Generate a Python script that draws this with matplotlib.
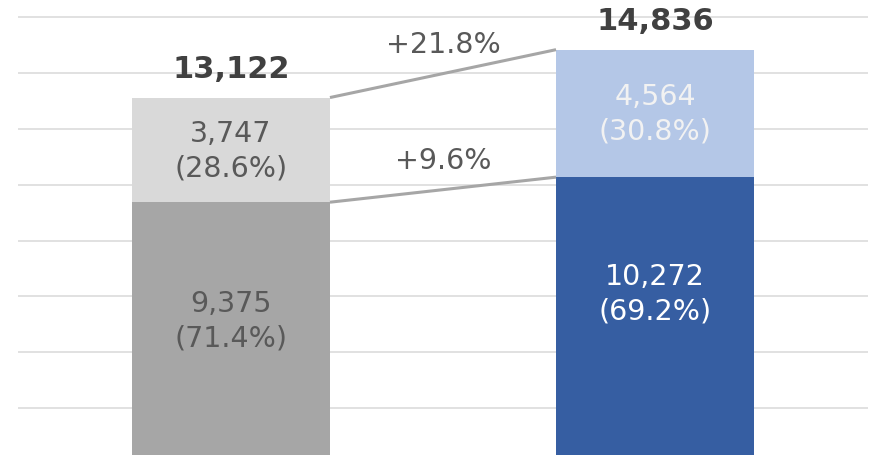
import matplotlib
matplotlib.use('Agg')
from matplotlib import pyplot as plt

# data
bottom_vals = [9375, 10272]
top_vals = [3747, 4564]
bottom_colors = ['#a6a6a6', '#365ea2']
top_colors = ['#d9d9d9', '#b4c7e7']
bottom_text = ['#595959', '#ffffff']
top_text = ['#595959', '#f2f2f2']
label_shift = [9, 20]  # points up for lower labels

totals = [b + t for b, t in zip(bottom_vals, top_vals)]
xs = [0, 1]
width = 0.467

plt.rcParams['font.family'] = ['DejaVu Sans']
fig = plt.figure(figsize=(8.7, 4.56), dpi=100)
ax = fig.add_axes([18 / 870, 0, 850 / 870, 1])
ax.set_xlim(-0.502, 1.502)
ax.set_ylim(324, 16650)

ax.set_yticks(range(2000, 16001, 2000))
ax.yaxis.grid(True, color='#d9d9d9', linewidth=1.1)
ax.set_axisbelow(True)
for s in ax.spines.values():
    s.set_visible(False)
ax.tick_params(left=False, bottom=False, labelleft=False, labelbottom=False)

ax.bar(xs, bottom_vals, width, color=bottom_colors, zorder=2)
ax.bar(xs, top_vals, width, bottom=bottom_vals, color=top_colors, zorder=2)

fs = 20.5
for i, x in enumerate(xs):
    b, t, tot = bottom_vals[i], top_vals[i], totals[i]
    ax.annotate('{:,}\n({:.1f}%)'.format(b, b / tot * 100), (x, b / 2),
                xytext=(0, label_shift[i]), textcoords='offset points',
                ha='center', va='center', fontsize=fs, color=bottom_text[i],
                linespacing=1.3, zorder=3)
    ax.annotate('{:,}\n({:.1f}%)'.format(t, t / tot * 100), (x, b + t / 2),
                xytext=(0, 0), textcoords='offset points',
                ha='center', va='center', fontsize=fs, color=top_text[i],
                linespacing=1.3, zorder=3)
    ax.annotate('{:,}'.format(tot), (x, tot), xytext=(0, 21),
                textcoords='offset points', ha='center', va='center',
                fontsize=22, fontweight='bold', color='#404040')

# connector lines between the bars
x0 = xs[0] + width / 2
x1 = xs[1] - width / 2
for y0, y1 in [(bottom_vals[0], bottom_vals[1]), (totals[0], totals[1])]:
    ax.plot([x0, x1], [y0, y1], color='#a6a6a6', linewidth=2.2, zorder=3,
            solid_capstyle='butt')

growth = [(bottom_vals[1] / bottom_vals[0] - 1) * 100,
          (top_vals[1] / top_vals[0] - 1) * 100]
mids = [(bottom_vals[0] + bottom_vals[1]) / 2, (totals[0] + totals[1]) / 2]
for g, m in zip(growth, mids):
    ax.annotate('+{:.1f}%'.format(g), ((x0 + x1) / 2, m), xytext=(0, 21.5),
                textcoords='offset points', ha='center', va='center',
                fontsize=fs, color='#595959')

plt.savefig('out.png', dpi=100)
